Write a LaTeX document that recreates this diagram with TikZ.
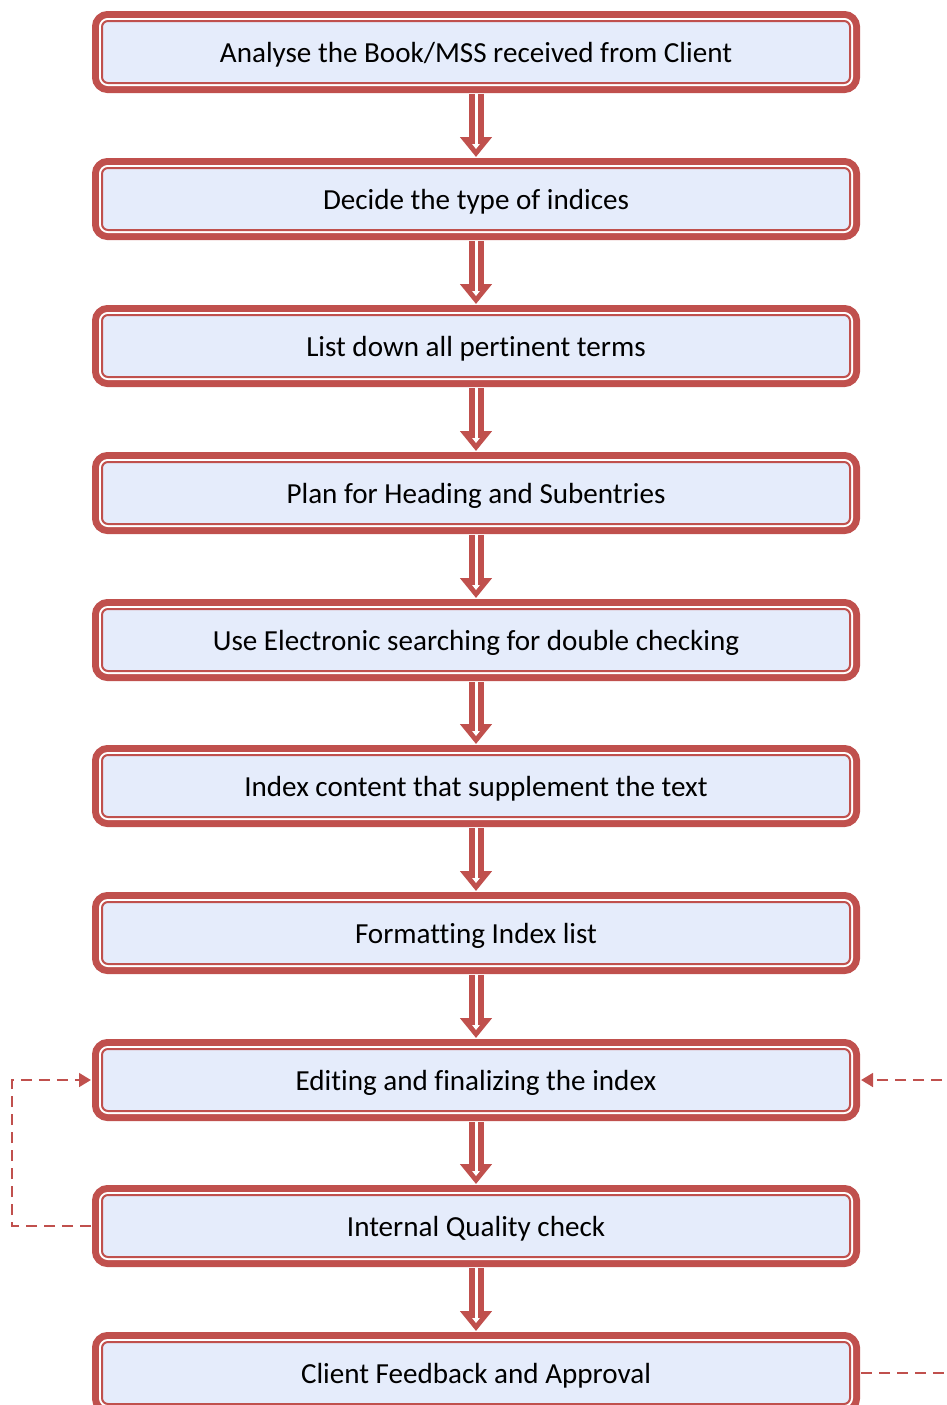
\documentclass[tikz,border=0pt]{standalone}
\usepackage{fontspec}
\setmainfont{Carlito}[Ligatures=NoCommon]
\usepackage{tikz}
\usetikzlibrary{arrows.meta}

\definecolor{boxred}{RGB}{192,80,77}
\definecolor{boxfill}{RGB}{229,236,251}

\tikzset{
  stepbox/.style={draw=boxred, fill=boxfill, line width=0.05cm,
    rounded corners=0.15cm, minimum width=18.7cm, minimum height=1.55cm,
    inner sep=0pt, text height=0.535cm, text depth=0cm,
    font=\fontsize{20.7}{24}\selectfont,
    preaction={draw=boxred, line width=0.5cm},
    preaction={draw=white, line width=0.15cm}},
  flowarrow/.style={draw=boxred, line width=0.375cm,
    -{Triangle[length=0.5cm, width=0.775cm]},
    shorten <=0.25cm, shorten >=0.25cm,
    postaction={draw=white, line width=0.075cm,
      -{Triangle[length=0.12cm, width=0.18cm]},
      shorten <=0.25cm, shorten >=0.45cm}},
  feedback/.style={draw=boxred, line width=0.07cm,
    dash pattern=on 0.27cm off 0.18cm,
    -{Triangle[length=0.3cm, width=0.34cm]},
    shorten <=0.25cm, shorten >=0.25cm}
}

\begin{document}
\begin{tikzpicture}
        \useasboundingbox (0, 0) rectangle (23.675, -35.125);

        \node[stepbox] (analyse) at (11.9, -1.3) {Analyse the Book/MSS received from Client};
        \node[stepbox] (decide) at (11.9, -4.975) {Decide the type of indices};
        \node[stepbox] (terms) at (11.9, -8.65) {List down all pertinent terms};
        \node[stepbox] (plan) at (11.9, -12.325) {Plan for Heading and Subentries};
        \node[stepbox] (search) at (11.9, -16.0) {Use Electronic searching for double checking};
        \node[stepbox] (content) at (11.9, -19.65) {Index content that supplement the text};
        \node[stepbox] (format) at (11.9, -23.325) {Formatting Index list};
        \node[stepbox] (edit) at (11.9, -27.0) {Editing and finalizing the index};
        \node[stepbox] (check) at (11.9, -30.65) {Internal Quality check};
        \node[stepbox] (approve) at (11.9, -34.325) {Client Feedback and Approval};

        \draw[flowarrow] (analyse.south) -- (decide.north);
        \draw[flowarrow] (decide.south) -- (terms.north);
        \draw[flowarrow] (terms.south) -- (plan.north);
        \draw[flowarrow] (plan.south) -- (search.north);
        \draw[flowarrow] (search.south) -- (content.north);
        \draw[flowarrow] (content.south) -- (format.north);
        \draw[flowarrow] (format.south) -- (edit.north);
        \draw[flowarrow] (edit.south) -- (check.north);
        \draw[flowarrow] (check.south) -- (approve.north);

        % loops back to editing
        \coordinate (lft) at (0.3, 0);
        \coordinate (rgt) at (24.5, 0);
        \draw[feedback] (check.west) -- (check.west -| lft)
                  -- (edit.west -| lft) -- (edit.west);
        \draw[feedback] (approve.east) -- (approve.east -| rgt)
                  -- (edit.east -| rgt) -- (edit.east);
\end{tikzpicture}
\end{document}
